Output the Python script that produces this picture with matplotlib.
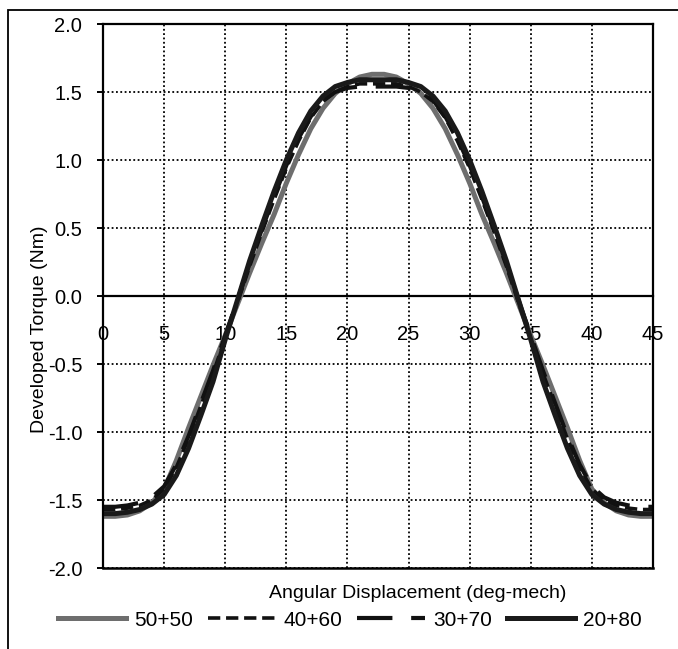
import matplotlib
matplotlib.use("Agg")
import matplotlib.pyplot as plt
from matplotlib.patches import Rectangle

plt.rcParams['font.family'] = ['Liberation Sans', 'DejaVu Sans']

angle = list(range(0, 46))

t_50_50 = [-1.62, -1.62, -1.61, -1.58, -1.52, -1.42, -1.21, -0.97, -0.74, -0.51, -0.29, -0.06,
           0.17, 0.39, 0.60, 0.83, 1.04, 1.23, 1.38, 1.49, 1.56, 1.61, 1.63,
           1.63, 1.61, 1.56, 1.49, 1.38, 1.23, 1.04, 0.83, 0.60, 0.39, 0.17, -0.06,
           -0.29, -0.51, -0.74, -0.97, -1.21, -1.42, -1.52, -1.58, -1.61, -1.62, -1.62]
t_40_60 = [-1.57, -1.57, -1.56, -1.54, -1.50, -1.42, -1.26, -1.05, -0.81, -0.57, -0.31, -0.05,
           0.22, 0.47, 0.71, 0.94, 1.14, 1.31, 1.43, 1.50, 1.54, 1.56, 1.56,
           1.56, 1.56, 1.54, 1.50, 1.43, 1.31, 1.14, 0.94, 0.71, 0.47, 0.22, -0.05,
           -0.31, -0.57, -0.81, -1.05, -1.26, -1.42, -1.50, -1.54, -1.56, -1.57, -1.57]
t_30_70 = [-1.55, -1.55, -1.54, -1.52, -1.48, -1.40, -1.24, -1.03, -0.79, -0.55, -0.29, -0.03,
           0.24, 0.49, 0.73, 0.96, 1.16, 1.32, 1.44, 1.50, 1.53, 1.54, 1.54,
           1.54, 1.54, 1.53, 1.50, 1.44, 1.32, 1.16, 0.96, 0.73, 0.49, 0.24, -0.03,
           -0.29, -0.55, -0.79, -1.03, -1.24, -1.40, -1.48, -1.52, -1.54, -1.55, -1.55]
t_20_80 = [-1.60, -1.60, -1.59, -1.57, -1.53, -1.46, -1.32, -1.12, -0.88, -0.63, -0.32, -0.03,
           0.26, 0.52, 0.77, 1.00, 1.20, 1.36, 1.47, 1.54, 1.57, 1.59, 1.59,
           1.59, 1.59, 1.57, 1.54, 1.47, 1.36, 1.20, 1.00, 0.77, 0.52, 0.26, -0.03,
           -0.32, -0.63, -0.88, -1.12, -1.32, -1.46, -1.53, -1.57, -1.59, -1.60, -1.60]

series_labels = ['50+50', '40+60', '30+70', '20+80']
x_ticks = [0, 5, 10, 15, 20, 25, 30, 35, 40, 45]
y_ticks = [-2.0, -1.5, -1.0, -0.5, 0.0, 0.5, 1.0, 1.5, 2.0]

W, H = 678, 649
fig = plt.figure(figsize=(W / 100, H / 100), dpi=100)
fig.patch.set_facecolor('white')

# outer frame
fig.patches.append(Rectangle((8 / W, -0.2), 1.3, 1.2 - 10 / H, transform=fig.transFigure,
                             fill=False, edgecolor='black', linewidth=1.3))

ax = fig.add_axes([103 / W, 1 - 568 / H, 550 / W, 544 / H])
ax.set_xlim(0, 45)
ax.set_ylim(-2.0, 2.0)

ax.plot(angle, t_50_50, color='#6e6e6e', lw=3.6, label=series_labels[0])
ax.plot(angle, t_40_60, color='#111111', lw=2.6, ls=(0, (3.4, 1.6)), label=series_labels[1])
ax.plot(angle, t_30_70, color='#111111', lw=3.0, ls=(0, (8.5, 4.5)), label=series_labels[2])
ax.plot(angle, t_20_80, color='#1a1a1a', lw=3.6, label=series_labels[3])

ax.set_xticks(x_ticks)
ax.set_xticklabels([str(v) for v in x_ticks])
ax.set_yticks(y_ticks)
ax.set_yticklabels(['%.1f' % v for v in y_ticks])

ax.grid(True, color='black', lw=1.3, ls=(0, (1, 1.4)))
ax.set_axisbelow(True)

for s in ['left', 'right', 'top']:
    ax.spines[s].set_linewidth(1.6)
    ax.spines[s].set_color('black')
ax.spines['bottom'].set_position(('data', 0))
ax.spines['bottom'].set_linewidth(1.6)
ax.spines['bottom'].set_zorder(1.5)
ax.axhline(-2.0, color='black', lw=1.8, clip_on=False)

ax.tick_params(axis='x', length=0, pad=21, labelsize=14.5)
ax.tick_params(axis='y', length=4, width=1.4, pad=11, labelsize=14.5, direction='out')
for lab in ax.get_xticklabels():
    lab.set_zorder(5)

fig.text(40 / W, 1 - 329 / H, 'Developed Torque (Nm)', rotation=90, ha='center', va='center', fontsize=14)
fig.text(418 / W, 1 - 593 / H, 'Angular Displacement (deg-mech)', ha='center', va='center', fontsize=14)

fig.legend(loc='center', bbox_to_anchor=(350 / W, 1 - 620 / H), ncol=4, frameon=False,
           fontsize=15, handlelength=3.25, handletextpad=0.4, columnspacing=0.7, borderpad=0)

fig.savefig('out.png', dpi=100, facecolor='white')
